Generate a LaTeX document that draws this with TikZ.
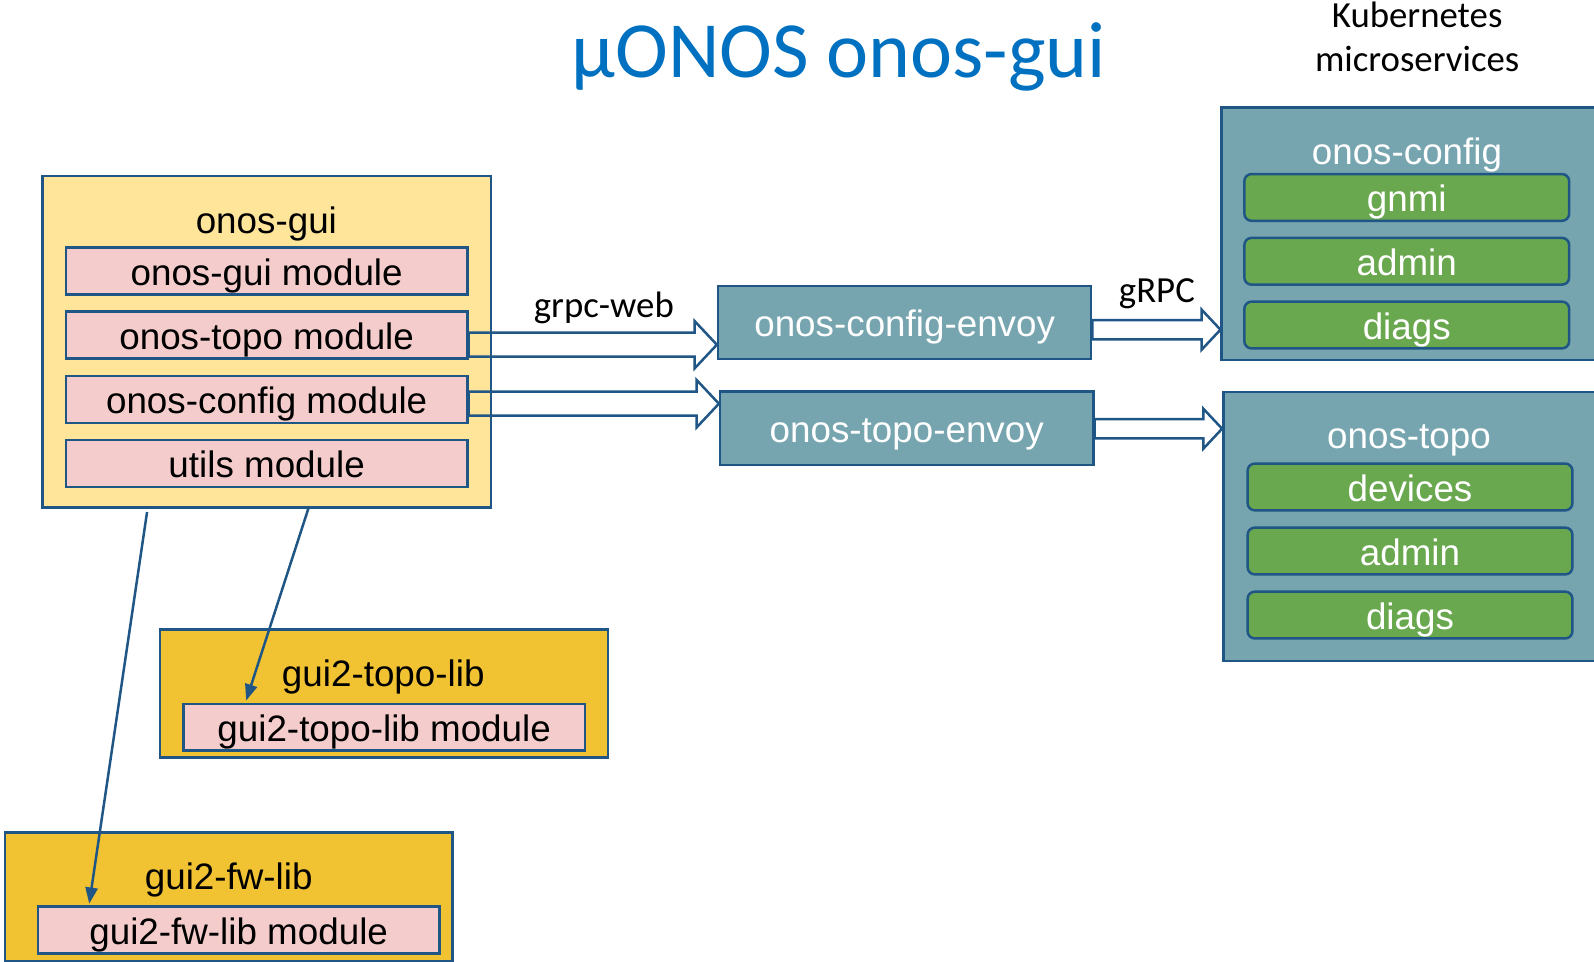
\documentclass[tikz,border=0pt]{standalone}
\usepackage{fontspec}
\setmainfont{Liberation Sans}
\newfontfamily\calibrifont{Carlito}
\usetikzlibrary{arrows.meta}
\usetikzlibrary{calc}

\definecolor{lineblue}{RGB}{31,86,133}
\definecolor{guiyellow}{RGB}{255,229,153}
\definecolor{libgold}{RGB}{241,194,50}
\definecolor{modpink}{RGB}{244,204,204}
\definecolor{svcteal}{RGB}{118,165,175}
\definecolor{apigreen}{RGB}{106,168,79}
\definecolor{titleblue}{RGB}{0,112,192}

\newcommand{\boxfont}{\fontsize{10.3}{12}\selectfont}
\newcommand{\labfont}{\calibrifont\fontsize{10.3}{12.2}\selectfont}

\tikzset{
	block/.style={draw=lineblue, line width=.7pt, inner sep=0pt},
	boxtitle/.style={inner sep=0pt, text height=10pt, text depth=2pt, font=\boxfont},
	modbox/.style={block, boxtitle, fill=modpink, minimum width=3.95cm, minimum height=.46cm},
	envoy/.style={block, boxtitle, fill=svcteal, text=white, minimum width=3.67cm, minimum height=.72cm},
	api/.style={block, boxtitle, fill=apigreen, text=white, rounded corners=2pt, minimum width=3.195cm, minimum height=.46cm},
	dep/.style={lineblue, line width=.7pt, -{Triangle[length=.16cm, width=.12cm]}}
}

% hollow block arrow: start, tip, half shaft, half head, head length
\newcommand{\hollowarrow}[5]{%
	\draw[lineblue, line width=.7pt, line join=miter]
		($(#1)+(0,#3)$) -- ($(#2)+(-#5,#3)$) -- ($(#2)+(-#5,#4)$) -- (#2)
		-- ($(#2)+(-#5,-#4)$) -- ($(#2)+(-#5,-#3)$) -- ($(#1)+(0,-#3)$) -- cycle;}

\begin{document}
\begin{tikzpicture}
	\clip (0,0) rectangle (15.68,-9.46);
	% heading
	\node[font=\calibrifont\fontsize{22.3}{26}\selectfont, text=titleblue] (title) at (8.25,-.56) {µONOS onos-gui};
	\node[font=\labfont, align=center, inner sep=0pt] (kube) at (13.94,-.365) {Kubernetes\\microservices};

	% onos-gui
	\node[block, fill=guiyellow, minimum width=4.41cm, minimum height=3.26cm] (gui) at (2.623,-3.36) {};
	\node[boxtitle] (guititle) at (2.62,-2.155) {onos-gui};
	\node[modbox] (guimod) at (2.623,-2.665) {onos-gui module};
	\node[modbox] (topomod) at (2.623,-3.295) {onos-topo module};
	\node[modbox] (cfgmod) at (2.623,-3.929) {onos-config module};
	\node[modbox] (utilmod) at (2.623,-4.558) {utils module};

	% envoys
	\node[envoy] (cfgenvoy) at (8.899,-3.172) {onos-config-envoy};
	\node[envoy] (topoenvoy) at (8.919,-4.212) {onos-topo-envoy};

	% onos-config
	\node[block, fill=svcteal, minimum width=3.783cm, minimum height=2.485cm] (onoscfg) at (13.909,-2.299) {};
	\node[boxtitle, text=white] (cfgtitle) at (13.84,-1.48) {onos-config};
	\node[api] (gnmi) at (13.838,-1.942) {gnmi};
	\node[api] (cfgadmin) at (13.838,-2.57) {admin};
	\node[api] (cfgdiags) at (13.838,-3.197) {diags};

	% onos-topo
	\node[block, fill=svcteal, minimum width=3.766cm, minimum height=2.649cm] (onostopo) at (13.917,-5.178) {};
	\node[boxtitle, text=white] (topotitle) at (13.86,-4.27) {onos-topo};
	\node[api] (devices) at (13.87,-4.79) {devices};
	\node[api] (topoadmin) at (13.87,-5.42) {admin};
	\node[api] (topodiags) at (13.87,-6.05) {diags};

	% libs
	\node[block, fill=libgold, minimum width=4.407cm, minimum height=1.263cm] (topolib) at (3.779,-6.822) {};
	\node[boxtitle] (topolibtitle) at (3.77,-6.61) {gui2-topo-lib};
	\node[modbox] (topolibmod) at (3.779,-7.153) {gui2-topo-lib module};
	\node[block, fill=libgold, minimum width=4.406cm, minimum height=1.266cm] (fwlib) at (2.25,-8.82) {};
	\node[boxtitle] (fwlibtitle) at (2.25,-8.61) {gui2-fw-lib};
	\node[modbox] (fwlibmod) at (2.348,-9.149) {gui2-fw-lib module};

	% block arrows
	\coordinate (a1s) at ($(topomod.east)+(0,-.096)$);
	\coordinate (a1t) at (cfgenvoy.west |- a1s);
	\coordinate (a2s) at ($(cfgmod.east)+(0,-.042)$);
	\coordinate (a2t) at (topoenvoy.west |- a2s);
	\coordinate (a3s) at ($(cfgenvoy.east)+(0,-.071)$);
	\coordinate (a3t) at (onoscfg.west |- a3s);
	\coordinate (a4s) at ($(topoenvoy.east)+(0,-.005)$);
	\coordinate (a4t) at (onostopo.west |- a4s);
	\hollowarrow{a1s}{a1t}{.118}{.234}{.22}
	\hollowarrow{a2s}{a2t}{.118}{.234}{.22}
	\hollowarrow{a3s}{a3t}{.095}{.197}{.185}
	\hollowarrow{a4s}{a4t}{.095}{.197}{.185}
	\node[font=\labfont] (grpcweb) at (5.94,-3.03) {grpc-web};
	\node[font=\labfont] (grpc) at (11.38,-2.89) {gRPC};

	% dependencies
	\draw[dep] ($(gui.south west)+(2.635,.023)$) -- ($(topolibmod.north west)+(.63,.02)$);
	\draw[dep] ($(gui.south west)+(1.041,-.034)$) -- ($(fwlibmod.north west)+(.517,.017)$);
\end{tikzpicture}
\end{document}
